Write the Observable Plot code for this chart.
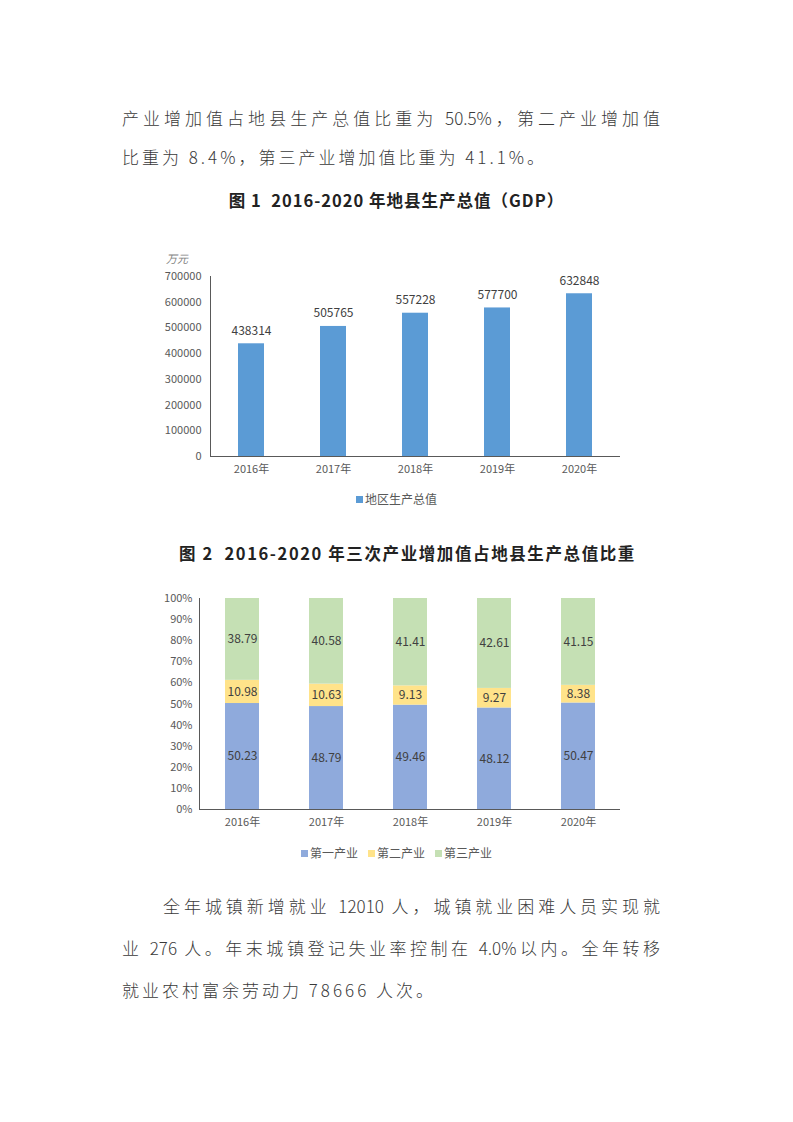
<!DOCTYPE html>
<html><head><meta charset="utf-8">
<script src="https://cdn.jsdelivr.net/npm/d3@7"></script>
<script src="https://cdn.jsdelivr.net/npm/@observablehq/plot@0.6"></script>
<style>
body{margin:0;width:793px;height:1122px;position:relative;background:#fff;font-family:"Noto Sans CJK SC","Noto Sans",sans-serif;overflow:hidden;}
.line{position:absolute;font-size:17px;color:#3a3a3a;line-height:24px;white-space:nowrap;letter-spacing:3px;font-weight:300;}
.just{text-align:justify;text-align-last:justify;white-space:normal;letter-spacing:0;}
.title{position:absolute;left:0;width:793px;text-align:center;font-size:16.5px;font-weight:bold;color:#222;line-height:24px;letter-spacing:1px;}
.legend{position:absolute;left:0;width:793px;display:flex;justify-content:center;font-size:12px;color:#595959;line-height:16px;}
.legend span.sw{display:inline-block;width:7px;height:7px;margin:4.5px 2px 0 0;}
.legend .item{display:flex;margin:0 5px;}
.chart{position:absolute;left:140px;}
.unit{position:absolute;left:166px;top:250px;font-size:11px;color:#7f7f7f;font-style:italic;line-height:16px;}
</style></head>
<body>
<div class="line just" style="left:122px;top:106px;width:538px;">产业增加值占地县生产总值比重为 50.5%，第二产业增加值</div>
<div class="line" style="left:122px;top:145px;">比重为 8.4%，第三产业增加值比重为 41.1%。</div>
<div class="title" style="top:188px;">图 1&nbsp;&nbsp;2016-2020 年地县生产总值（GDP）</div>
<div class="unit">万元</div>
<div id="c1" class="chart" style="top:240px;"></div>
<div class="legend" style="top:491px;" id="lg1"></div>
<div class="title" style="top:541px;padding-left:22px;width:771px;letter-spacing:1.6px;">图 2&nbsp;&nbsp;2016-2020 年三次产业增加值占地县生产总值比重</div>
<div id="c2" class="chart" style="top:585px;"></div>
<div class="legend" style="top:845px;" id="lg2"></div>
<div class="line just" style="left:163px;top:894px;width:497px;">全年城镇新增就业 12010 人，城镇就业困难人员实现就</div>
<div class="line just" style="left:122px;top:936px;width:538px;">业 276 人。年末城镇登记失业率控制在 4.0%以内。全年转移</div>
<div class="line" style="left:122px;top:978px;">就业农村富余劳动力 78666 人次。</div>
<script>
const years = ["2016年","2017年","2018年","2019年","2020年"];
const gdp = [438314, 505765, 557228, 577700, 632848];
const gdpTicks = [0, 100000, 200000, 300000, 400000, 500000, 600000, 700000];
const gdpSeries = "地区生产总值";
const sectors = ["第一产业","第二产业","第三产业"];
const primary = [50.23, 48.79, 49.46, 48.12, 50.47];
const secondary = [10.98, 10.63, 9.13, 9.27, 8.38];
const tertiary = [38.79, 40.58, 41.41, 42.61, 41.15];
const pctTicks = [0,10,20,30,40,50,60,70,80,90,100];

const gdpColor = "#5B9BD5";
const sectorColors = ["#8FAADC","#FFE38A","#C5E0B4"];
const font = '"Noto Sans CJK SC","Noto Sans",sans-serif';

const gdpData = years.map((y,i)=>({year:y, value:gdp[i]}));
const c1 = Plot.plot({
  width:500, height:245, marginLeft:70, marginTop:36, marginBottom:29, marginRight:20,
  style:{fontFamily:font, fontSize:"11px", color:"#595959", background:"transparent"},
  x:{domain:years, paddingInner:0.68, paddingOuter:0.34, label:null},
  y:{domain:[0,700000], label:null},
  marks:[
    Plot.barY(gdpData,{x:"year", y:"value", fill:gdpColor}),
    Plot.text(gdpData,{x:"year", y:"value", text:d=>String(d.value), dy:-13, fill:"#404040", fontSize:12}),
    Plot.ruleY([0],{stroke:"#595959", strokeWidth:1}),
    Plot.frame({anchor:"left", stroke:"#595959"}),
    Plot.axisX({tickSize:0, tickPadding:9, label:null, fontSize:11}),
    Plot.axisY({ticks:gdpTicks, tickSize:0, tickPadding:9, tickFormat:d=>String(d), label:null})
  ]
});
document.getElementById("c1").appendChild(c1);
document.getElementById("lg1").innerHTML = `<div class="item"><span class="sw" style="background:${gdpColor}"></span>${gdpSeries}</div>`;

const sectorVals = [primary, secondary, tertiary];
const shareData = [];
years.forEach((y,i)=>sectors.forEach((s,j)=>shareData.push({year:y, sector:s, value:sectorVals[j][i]})));
const c2 = Plot.plot({
  width:500, height:250, marginLeft:59, marginTop:13, marginBottom:26, marginRight:20,
  style:{fontFamily:font, fontSize:"11px", color:"#595959", background:"transparent"},
  x:{domain:years, paddingInner:0.6, paddingOuter:0.3, label:null},
  y:{domain:[0,100], label:null},
  color:{domain:sectors, range:sectorColors},
  marks:[
    Plot.barY(shareData, Plot.stackY({x:"year", y:"value", z:"sector", fill:"sector", order:null})),
    Plot.text(shareData, Plot.stackY({x:"year", y:"value", z:"sector", order:null, text:d=>d.value.toFixed(2), fill:"#404040", fontSize:12})),
    Plot.ruleY([0],{stroke:"#595959"}),
    Plot.frame({anchor:"left", stroke:"#595959"}),
    Plot.axisX({tickSize:0, tickPadding:9, label:null}),
    Plot.axisY({ticks:pctTicks, tickSize:0, tickPadding:7, tickFormat:d=>d+"%", label:null})
  ]
});
document.getElementById("c2").appendChild(c2);
document.getElementById("lg2").innerHTML = sectors.map((s,j)=>`<div class="item"><span class="sw" style="background:${sectorColors[j]}"></span>${s}</div>`).join("");
</script>
</body></html>
